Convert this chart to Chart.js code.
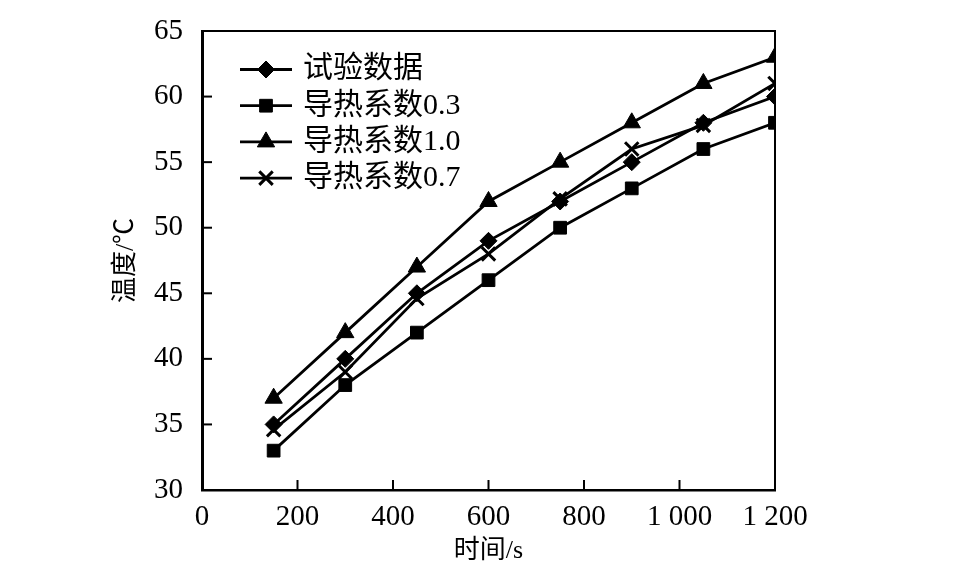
<!DOCTYPE html>
<html>
<head>
<meta charset="utf-8">
<script src="https://cdn.jsdelivr.net/npm/chart.js@4/dist/chart.umd.min.js"></script>
<style>
  html, body { margin: 0; padding: 0; background: #fff; }
  #wrap { width: 959px; height: 568px; }
</style>
</head>
<body>
<div id="wrap"><canvas id="c" width="959" height="568"></canvas></div>
<script>
// ---- data ----
const times = [150, 300, 450, 600, 750, 900, 1050, 1200];
const seriesNames = ['试验数据', '导热系数0.3', '导热系数1.0', '导热系数0.7'];
const testData = [35, 40, 45, 49, 52, 55, 58, 60];
const k03 = [33, 38, 42, 46, 50, 53, 56, 58];
const k10 = [37, 42, 47, 52, 55, 58, 61, 63];
const k07 = [34.6, 39, 44.6, 48, 52.2, 56, 57.8, 61];
const xTickLabels = ['0', '200', '400', '600', '800', '1 000', '1 200'];
const yTickLabels = ['30', '35', '40', '45', '50', '55', '60', '65'];
const xTitle = '时间/s';
const yTitle = '温度/℃';

const FONT = '"Liberation Serif", "Noto Sans CJK SC", serif';
const styles = ['rectRot', 'rect', 'triangle', 'crossRot'];
const radii = [8.5, 9, 10, 9.5];
const bws = [1, 1, 1, 3];
const values = [testData, k03, k10, k07];

const datasets = values.map((vals, i) => ({
  label: seriesNames[i],
  data: times.map((t, j) => ({ x: t, y: vals[j] })),
  borderColor: '#000',
  backgroundColor: '#000',
  borderWidth: 2.8,
  pointStyle: styles[i],
  pointRadius: radii[i],
  pointBorderWidth: bws[i],
  pointBackgroundColor: '#000',
  pointBorderColor: '#000',
  tension: 0,
  fill: false
}));

function drawMarker(ctx, style, r, x, y, bw) {
  if (Chart.helpers && Chart.helpers.drawPoint) {
    Chart.helpers.drawPoint(ctx, { pointStyle: style, radius: r, rotation: 0, borderWidth: bw }, x, y);
    return;
  }
  ctx.beginPath();
  ctx.arc(x, y, r, 0, Math.PI * 2);
  ctx.fill();
}

const framePlugin = {
  id: 'frame',
  afterDatasetsDraw(chart) {
    const { ctx, chartArea: a, scales } = chart;
    ctx.save();
    ctx.strokeStyle = '#000';
    ctx.lineWidth = 2;
    ctx.beginPath();
    ctx.moveTo(a.left, a.top);
    ctx.lineTo(a.right, a.top);
    ctx.lineTo(a.right, a.bottom);
    ctx.stroke();
    const tl = 10;
    ctx.lineWidth = 2;
    scales.x.ticks.forEach(t => {
      const px = scales.x.getPixelForValue(t.value);
      if (t.value <= scales.x.min || t.value >= scales.x.max) return;
      ctx.beginPath();
      ctx.moveTo(px, a.bottom);
      ctx.lineTo(px, a.bottom - tl);
      ctx.stroke();
    });
    scales.y.ticks.forEach(t => {
      const py = scales.y.getPixelForValue(t.value);
      if (t.value <= scales.y.min || t.value >= scales.y.max) return;
      ctx.beginPath();
      ctx.moveTo(a.left, py);
      ctx.lineTo(a.left + tl, py);
      ctx.stroke();
    });
    ctx.restore();
  },
  afterDraw(chart) {
    const { ctx } = chart;
    ctx.save();
    const x0 = 240, x1 = 292, tx = 303, y0 = 69.5, dy = 36.2;
    chart.data.datasets.forEach((ds, i) => {
      const y = y0 + i * dy;
      ctx.strokeStyle = '#000';
      ctx.fillStyle = '#000';
      ctx.lineWidth = 2.8;
      ctx.beginPath();
      ctx.moveTo(x0, y);
      ctx.lineTo(x1, y);
      ctx.stroke();
      ctx.lineWidth = ds.pointBorderWidth;
      drawMarker(ctx, ds.pointStyle, ds.pointRadius, (x0 + x1) / 2, y, ds.pointBorderWidth);
      ctx.fillStyle = '#000';
      ctx.font = '30px ' + FONT;
      ctx.textBaseline = 'middle';
      ctx.textAlign = 'left';
      ctx.fillText(ds.label, tx, y);
    });
    ctx.restore();
  }
};

new Chart(document.getElementById('c'), {
  type: 'line',
  data: { datasets },
  options: {
    responsive: false,
    animation: false,
    devicePixelRatio: 1,
    layout: { padding: { top: 31, right: 184, left: 0, bottom: 0 } },
    plugins: { legend: { display: false }, tooltip: { enabled: false } },
    scales: {
      x: {
        type: 'linear',
        min: 0, max: 1200,
        ticks: {
          stepSize: 200,
          color: '#000',
          font: { family: FONT, size: 29 },
          padding: 2,
          maxRotation: 0,
          autoSkip: false,
          callback: (v, i) => xTickLabels[i]
        },
        grid: { display: false },
        border: { display: true, color: '#000', width: 2.5 },
        title: {
          display: true, text: xTitle, color: '#000',
          font: { family: FONT, size: 26 },
          padding: { top: 0, bottom: 1 }
        },
        afterFit: s => { s.height = 78; }
      },
      y: {
        min: 30, max: 65,
        ticks: {
          stepSize: 5,
          color: '#000',
          font: { family: FONT, size: 29 },
          padding: 11,
          autoSkip: false,
          callback: (v, i) => yTickLabels[i]
        },
        grid: { display: false },
        border: { display: true, color: '#000', width: 3 },
        title: {
          display: true, text: yTitle, color: '#000',
          font: { family: FONT, size: 26 },
          padding: { top: 111, bottom: 0 }
        },
        afterFit: s => { s.width = 202; }
      }
    }
  },
  plugins: [framePlugin]
});
</script>
</body>
</html>
